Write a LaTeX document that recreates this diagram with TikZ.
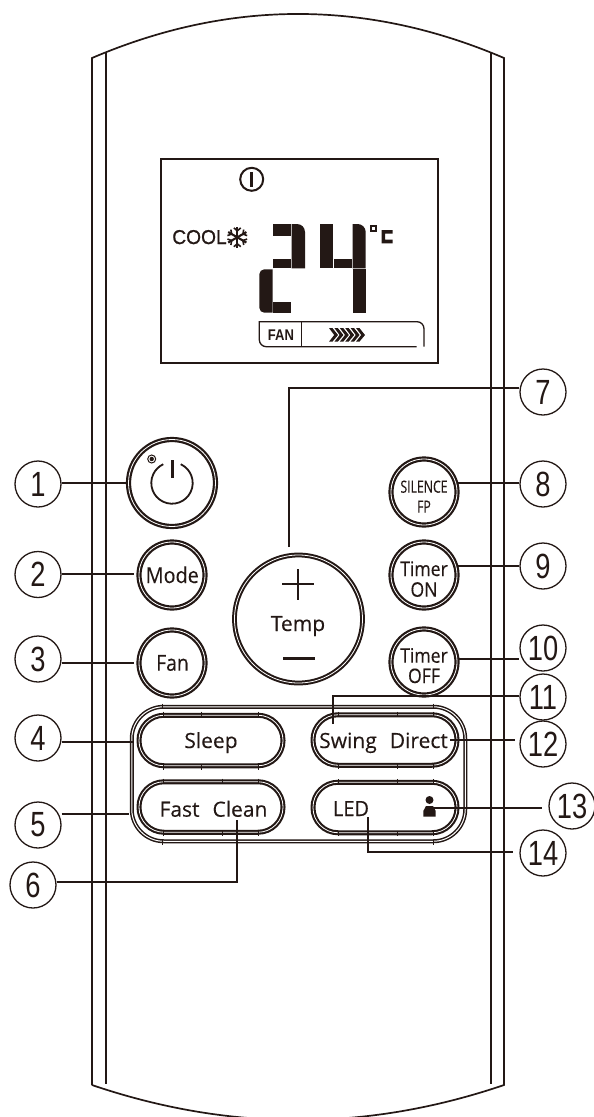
\documentclass[tikz,border=0pt]{standalone}
\usepackage{fontspec}
\usepackage{graphicx}
\setmainfont{Open Sans}[FakeBold=0.25]
\newfontfamily\numfont{Liberation Sans}
\newfontfamily\coolfont[FakeBold=0.9]{Liberation Sans}
\definecolor{ink}{HTML}{231815}
\newcommand{\blab}[3]{\scalebox{#1}[1]{\fontsize{#2}{#2}\selectfont #3}}
\newcommand{\cnum}[1]{\blab{.78}{35}{\numfont #1}}
\tikzset{
  shell/.style={draw=ink,line width=1.7pt},
  lead/.style={draw=ink,line width=1.5pt},
  callout/.style={circle,draw=ink,line width=1.3pt,fill=white,minimum size=46pt,inner sep=0pt,text=ink},
  roundbtn/.style={circle,draw=ink,fill=white,line width=2.2pt,double=white,double distance=.8pt,inner sep=0pt},
  pillbtn/.style={rectangle,draw=ink,fill=white,line width=2.1pt,double=white,double distance=.8pt,inner sep=0pt,
     minimum width=144pt,minimum height=50.5pt,rounded corners=25pt},
  seg/.style={fill=ink,draw=none},
  lbl/.style={anchor=base,inner sep=0pt,text=ink},
  tick/.style={draw=ink,line width=1pt}
}
\begin{document}
\begin{tikzpicture}[x=1pt,y=-1pt]
\useasboundingbox (0,0) rectangle (594,1117);
\clip (0,0) rectangle (594,1117);
\fill[white] (0,0) rectangle (594,1117);
% shell
\draw[shell] (92,1085) -- (92,58) .. controls (229.3,-0.7) and (366.7,-0.7) .. (504,58) -- (504,1085)
   .. controls (366.7,1131.7) and (229.3,1131.7) .. (92,1085);
\draw[shell,line width=1.4pt] (106,52.5) -- (106,1084);
\draw[shell,line width=1.4pt] (491,52.5) -- (491,1084);
% LCD
\node[rectangle,draw=ink,line width=1.7pt,minimum width=277pt,minimum height=204pt,inner sep=0pt] (lcd) at (299.5,261) {};
\draw[ink,line width=2pt] (251.7,179.3) circle (11.5pt);
\draw[ink,line width=3pt] (251.7,172) -- (251.7,187);
\node[lbl] (cool) at (199.5,244) {\coolfont\blab{.96}{20}{COOL}};
\foreach \a in {30,90,150,210,270,330}{
  \draw[ink,line width=2.1pt] (237.3,237.3) -- ++(\a:10.5pt);
  \draw[ink,line width=1.6pt] (237.3,237.3) ++(\a:6.5pt) ++(\a+50:4.5pt) -- ++(\a+230:4.5pt) -- ++(\a-50:4.5pt);
}
% digit 2
\fill[seg] (273.3,224) rectangle (291.2,236);
\fill[seg] (291.7,268.3) -- (291.7,224) [rounded corners=8pt] -- (305,224) [sharp corners] -- (305,268.3) -- cycle;
\fill[seg] (273.3,259.3) rectangle (291.2,268.3);
\fill[seg] (272.7,269.3) [rounded corners=5pt] -- (259.3,269.3) -- (259.3,312.7) [sharp corners] -- (272.7,312.7) -- cycle;
\fill[seg] (273.2,302.3) rectangle (291,312.7);
% digit 4
\fill[seg] (320,224) rectangle (333.3,268.3);
\fill[seg] (334,259.3) rectangle (352.2,268.3);
\fill[seg] (352.7,268.3) -- (352.7,224) [rounded corners=8pt] -- (365.7,224) [sharp corners] -- (365.7,268.3) -- cycle;
\fill[seg] (352.7,269.3) rectangle (365.7,312.7);
% degree C
\draw[ink,line width=2pt] (371,226) rectangle (376.3,231.3);
\fill[seg] (381.7,230) -- (392.7,230) -- (392.7,233.5) -- (385,233.5) -- (385,239.7) -- (392.7,239.7) -- (392.7,243.3) -- (381.7,243.3) -- cycle;
% fan bar
\draw[ink,line width=1.3pt] (424,346.7) [rounded corners=7pt] -- (424,321.7) [sharp corners] -- (259.3,321.7) [rounded corners=7pt] -- (259.3,346.7) [sharp corners] -- (416.7,346.7);
\draw[ink,line width=1.3pt] (301.7,321.7) -- (301.7,346.7);
\node[lbl] (fan2) at (281,340.5) {\numfont\bfseries\blab{.84}{15.5}{FAN}};
\foreach \i in {0,...,5}{
  \pgfmathsetmacro{\xa}{329+5.4*\i}
  \fill[seg] (\xa,328) -- (\xa+3.4,328) -- (\xa+9,335) -- (\xa+3.4,341.7) -- (\xa,341.7) -- (\xa+5.2,335) -- cycle;
}
% large frame
\node[rectangle,draw=ink,fill=white,line width=1.5pt,double=white,double distance=1pt,minimum width=333.5pt,minimum height=134.5pt,
  rounded corners=32pt,inner sep=0pt] (frame) at (298.5,774) {};
% buttons
\node[roundbtn,minimum size=87pt] (b1) at (172,483) {};
\node[roundbtn,minimum size=66pt] (b2) at (172,575) {};
\node[roundbtn,minimum size=66pt] (b3) at (172,663) {};
\node[roundbtn,minimum size=128pt,line width=2pt] (b7) at (298.5,619) {};
\node[roundbtn,minimum size=66pt] (b8) at (424,492) {};
\node[roundbtn,minimum size=66pt] (b9) at (424,575) {};
\node[roundbtn,minimum size=66pt] (b10) at (424,662) {};
\node[pillbtn] (b4) at (211,740.5) {};
\node[pillbtn] (b5) at (211,807) {};
\node[pillbtn] (b11) at (385,740) {};
\node[pillbtn] (b13) at (385,807.5) {};
% joint ticks
\foreach \x in {163,201.7,258}{\draw[tick] (\x,711.5) -- (\x,717); \draw[tick] (\x,764) -- (\x,769.5);}
\foreach \x in {163,222.7,258}{\draw[tick] (\x,778.5) -- (\x,784); \draw[tick] (\x,830.5) -- (\x,836);}
\foreach \x in {338,397,433}{\draw[tick] (\x,711.5) -- (\x,717); \draw[tick] (\x,763.5) -- (\x,769);
  \draw[tick] (\x,779) -- (\x,784.5); \draw[tick] (\x,830.5) -- (\x,836);}
\foreach \x in {162.3,433}{\draw[tick] (\x,703.5) -- (\x,708.5); \draw[tick] (\x,839.5) -- (\x,844.5);}
% power icon
\draw[ink,line width=1.8pt] (172,483) ++(65:20.7pt) arc (65:-245:20.7pt);
\draw[ink,line width=3pt] (172.3,460) -- (172.3,477.7);
\draw[ink,line width=1pt] (151.7,459) circle (4pt);
\fill[ink] (151.7,459) circle (2.2pt);
% button labels
\node[lbl] (tmode) at (172.3,583) {\blab{.9}{22}{Mode}};
\node[lbl] (tfan) at (172.5,670.7) {\blab{.88}{22}{Fan}};
\node[lbl] (ttemp) at (298,631) {\blab{1}{21}{Temp}};
\node[lbl] (tsil) at (424,492.7) {\blab{.73}{16.8}{SILENCE}};
\node[lbl] (tfp) at (424,512.7) {\blab{.73}{16.8}{FP}};
\node[lbl] (tt1) at (424,576) {\blab{.88}{20}{Timer}};
\node[lbl] (ton) at (424,596.7) {\blab{.88}{20}{ON}};
\node[lbl] (tt2) at (424,662.7) {\blab{.88}{20}{Timer}};
\node[lbl] (toff) at (424,683) {\blab{.88}{20}{OFF}};
\node[lbl] (tsleep) at (211,748) {\blab{1}{21}{Sleep}};
\node[lbl] (tfast) at (213.5,816.7) {\blab{1}{21}{Fast\hspace{13pt}Clean}};
\node[lbl] (tswing) at (383.5,748) {\blab{1}{21}{Swing\hspace{13pt}Direct}};
\node[lbl] (tled) at (351,816) {\blab{.95}{21}{LED}};
% plus / minus
\draw[ink,line width=2pt] (282,584) -- (314,584);
\draw[ink,line width=2pt] (298,569) -- (298,600);
\draw[ink,line width=3pt] (283,658.5) -- (315,658.5);
% person icon
\fill[ink] (429.5,800) circle (4pt);
\fill[ink] (423.3,816.7) -- (423.3,811) -- (426,806) -- (433,806) -- (435.7,811) -- (435.7,816.7) -- cycle;
% callouts
\node[callout] (c1) at (38,484) {\cnum{1}};
\node[callout] (c2) at (38,574.5) {\cnum{2}};
\node[callout] (c3) at (38,659) {\cnum{3}};
\node[callout] (c4) at (38,738) {\cnum{4}};
\node[callout] (c5) at (38,825) {\cnum{5}};
\node[callout] (c6) at (33,885) {\cnum{6}};
\node[callout] (c7) at (543,392) {\cnum{7}};
\node[callout] (c8) at (543,484) {\cnum{8}};
\node[callout] (c9) at (543,566) {\cnum{9}};
\node[callout] (c10) at (543,648) {\cnum{10}};
\node[callout] (c11) at (543,697) {\cnum{11}};
\node[callout] (c12) at (543,744) {\cnum{12}};
\node[callout] (c13) at (572,806) {\cnum{13}};
\node[callout] (c14) at (543,853) {\cnum{14}};
% leader ends
\coordinate (a1) at (127,483);
\coordinate (a2) at (134,574);
\coordinate (a3) at (134,663);
\coordinate (a4) at (134,742);
\coordinate (a5) at (129,814);
\coordinate (a6) at (237,820);
\coordinate (a7) at (289,547);
\coordinate (a8) at (458,483);
\coordinate (a9) at (458,566);
\coordinate (a10) at (458,659);
\coordinate (a11) at (333,724);
\coordinate (a12) at (450,740);
\coordinate (a13) at (430,808);
\coordinate (a14) at (368,817);
% leaders
\draw[lead] (c1.east |- a1) -- (a1);
\draw[lead] (c2.east |- a2) -- (a2);
\draw[lead] (c3.east |- a3) -- (a3);
\draw[lead] (c4.east |- a4) -- (a4);
\draw[lead] (c5.east |- a5) -- (a5);
\draw[lead] (c6.east |- 0,882) -- (237,882) -- (a6);
\draw[lead] (a7) -- (289,388) -- (c7.west |- 0,388);
\draw[lead] (a8) -- (c8.west |- a8);
\draw[lead] (a9) -- (c9.west |- a9);
\draw[lead] (a10) -- (c10.west |- a10);
\draw[lead] (a11) -- (333,696) -- (c11.west |- 0,696);
\draw[lead,shorten >=4pt] (a12) -- (c12.west |- a12);
\draw[lead,shorten >=6pt] (a13) -- (c13.west |- a13);
\draw[lead,shorten >=6pt] (a14) -- (368,852) -- (c14.west |- 0,852);
\end{tikzpicture}
\end{document}
